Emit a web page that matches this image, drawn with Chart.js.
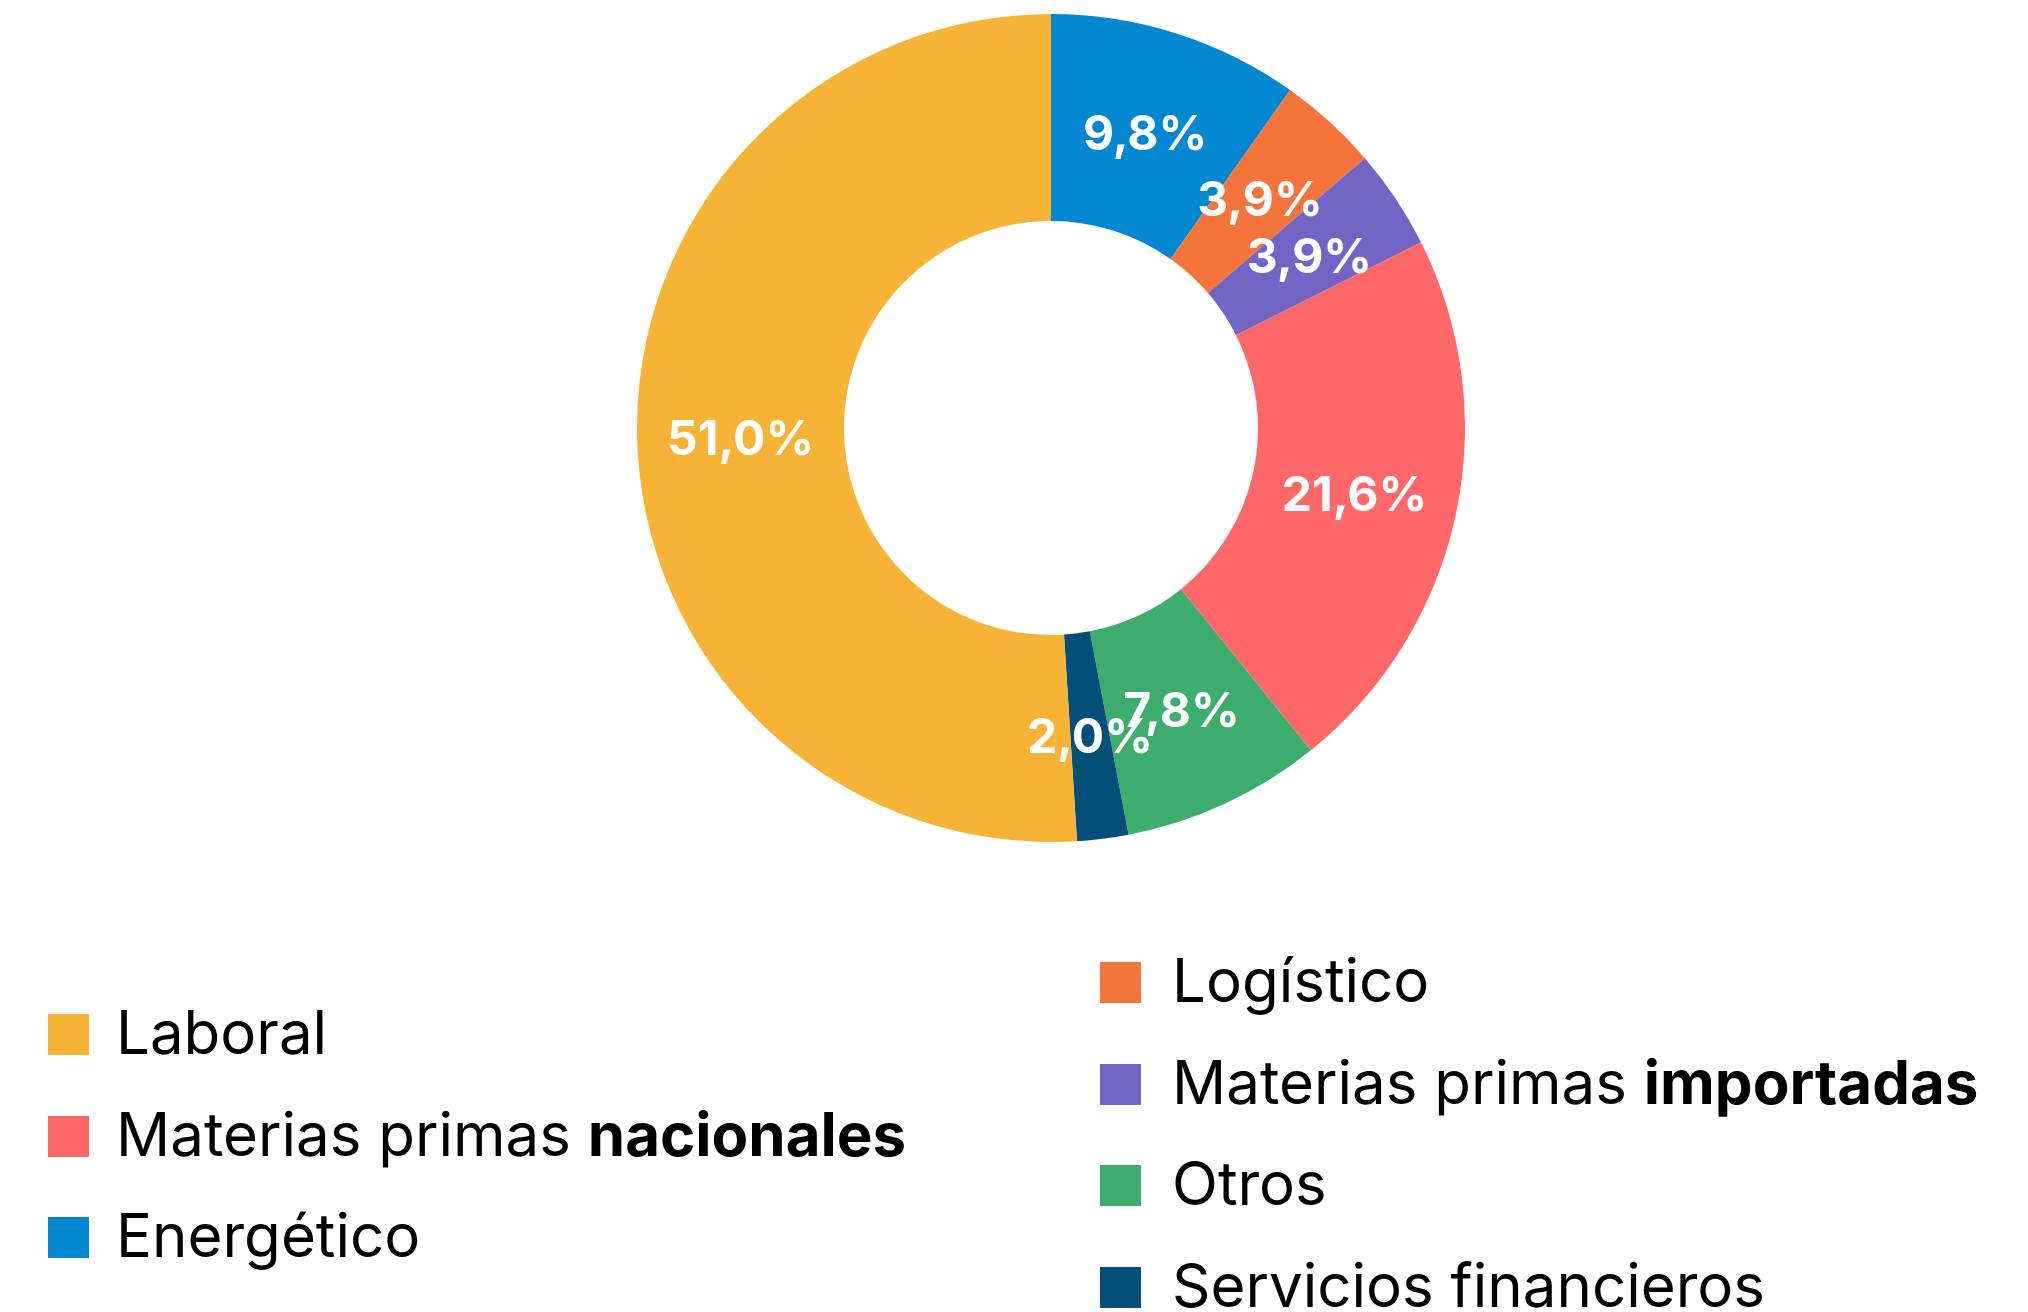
<!DOCTYPE html>
<html>
<head>
<meta charset="utf-8">
<script src="https://cdn.jsdelivr.net/npm/chart.js@4.4.1/dist/chart.umd.min.js"></script>
<style>
  html, body { margin: 0; padding: 0; background: #fff; }
  body { width: 2028px; height: 1312px; position: relative; overflow: hidden; font-family: Inter, "Open Sans", sans-serif; }
  #wrap { position: absolute; left: 637px; top: 14px; width: 828px; height: 828px; }
  .col { position: absolute; }
  .item { position: absolute; left: 0; white-space: nowrap; font-size: 60px; color: #000; line-height: 1; }
  .item .sw { position: absolute; left: 0; width: 41px; height: 41px; }
  .item .tx { position: absolute; left: 68px; top: -32px; }
  #colRight .item .tx { left: 72px; }
  .item b { font-weight: 700; }
</style>
</head>
<body>
<div id="wrap"><canvas id="canvas"></canvas></div>
<div class="col" id="colLeft" style="left:48px; top:0;"></div>
<div class="col" id="colRight" style="left:1100px; top:0;"></div>
<script>
// slices, clockwise from 12 o'clock
var labels = ['Energético', 'Logístico', 'Materias primas importadas', 'Materias primas nacionales', 'Otros', 'Servicios financieros', 'Laboral'];
var labelMain = ['Energético', 'Logístico', 'Materias primas ', 'Materias primas ', 'Otros', 'Servicios financieros', 'Laboral'];
var labelBold = ['', '', 'importadas', 'nacionales', '', '', ''];
var values = [9.8, 3.9, 3.9, 21.6, 7.8, 2.0, 51.0];
var colors = ['#0288D1', '#F4753C', '#7264C5', '#FF6868', '#3DAD6E', '#024F78', '#F6B336'];

// legend layout (which slice goes in which column, top to bottom)
var leftOrder = [6, 3, 0];
var rightOrder = [1, 2, 4, 5];

function buildLegend(el, order, firstY, step) {
    order.forEach(function(idx, i) {
        var it = document.createElement('div');
        it.className = 'item';
        it.style.top = (firstY + i * step) + 'px';
        var sw = document.createElement('div');
        sw.className = 'sw';
        sw.style.background = colors[idx];
        sw.style.top = '-20px';
        var tx = document.createElement('div');
        tx.className = 'tx';
        tx.appendChild(document.createTextNode(labelMain[idx]));
        if (labelBold[idx]) {
            var b = document.createElement('b');
            b.textContent = labelBold[idx];
            tx.appendChild(b);
        }
        it.appendChild(sw);
        it.appendChild(tx);
        el.appendChild(it);
    });
}
buildLegend(document.getElementById('colLeft'), leftOrder, 1034, 101.5);
buildLegend(document.getElementById('colRight'), rightOrder, 982, 101.7);

// white percentage labels in the middle of each arc
var sliceLabels = {
    id: 'sliceLabels',
    afterDatasetsDraw: function(chart) {
        var ctx = chart.ctx;
        var meta = chart.getDatasetMeta(0);
        ctx.save();
        ctx.fillStyle = '#fff';
        ctx.font = '700 48px Inter, "Open Sans", sans-serif';
        ctx.textAlign = 'center';
        ctx.textBaseline = 'middle';
        meta.data.forEach(function(arc, i) {
            var p = arc.getCenterPoint();
            var txt = values[i].toFixed(1).replace('.', ',') + '%';
            ctx.fillText(txt, p.x, p.y + 3);
        });
        ctx.restore();
    }
};

var ctx = document.getElementById('canvas').getContext('2d');
var myChart = new Chart(ctx, {
    type: 'doughnut',
    data: {
        labels: labels,
        datasets: [{
            data: values,
            backgroundColor: colors,
            borderWidth: 0,
            hoverOffset: 0
        }]
    },
    options: {
        responsive: true,
        maintainAspectRatio: false,
        animation: false,
        cutout: '50%',
        layout: { padding: 0 },
        plugins: {
            legend: { display: false },
            tooltip: { enabled: false }
        }
    },
    plugins: [sliceLabels]
});
</script>
</body>
</html>
